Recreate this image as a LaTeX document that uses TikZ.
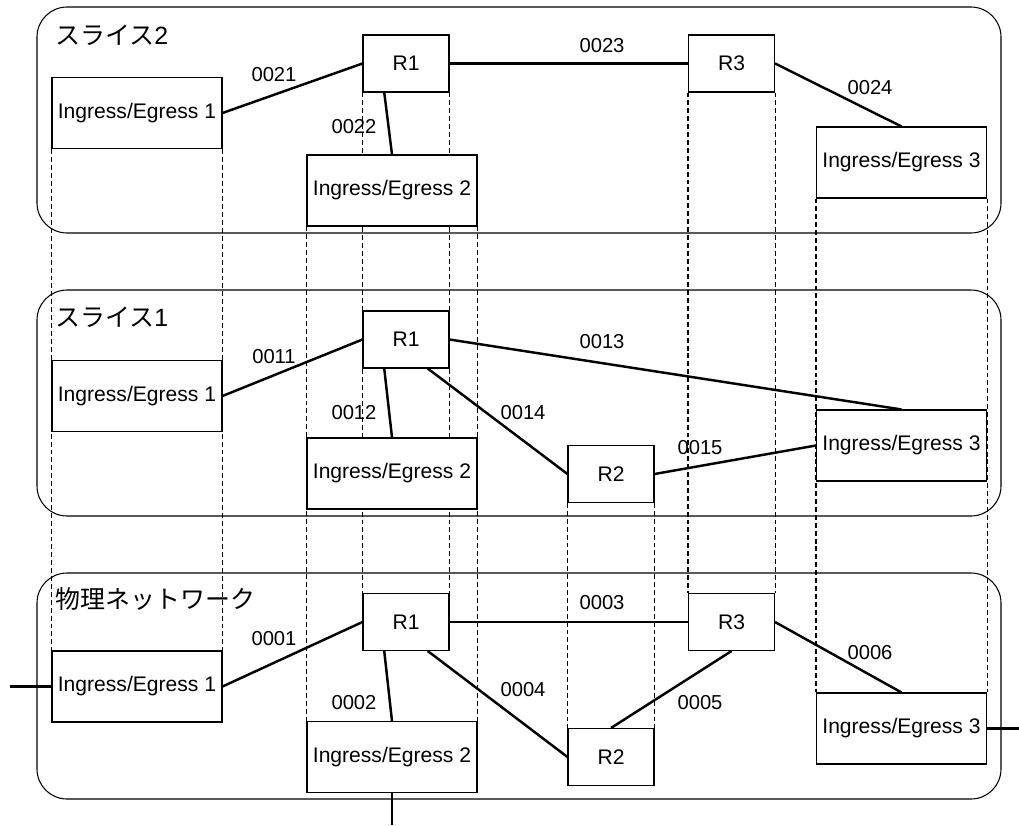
\documentclass[tikz,border=0pt]{standalone}
\usepackage{fontspec}
\setmainfont{Liberation Sans}
\newfontfamily\jpfont{Noto Sans CJK JP}
\usetikzlibrary{calc,backgrounds}

\begin{document}
\begin{tikzpicture}[x=0.2mm,y=-0.2mm,
  panel/.style={draw,line width=0.6pt,rounded corners=6mm},
  iebox/.style={draw,fill=white,line width=0.6pt,minimum width=34mm,minimum height=14.2mm,inner sep=0pt,font=\fontsize{12}{14}\selectfont},
  rbox/.style={draw,fill=white,line width=0.6pt,minimum width=17.2mm,minimum height=11.4mm,inner sep=0pt,font=\fontsize{12}{14}\selectfont},
  link/.style={line width=1.4pt},
  guide/.style={line width=0.6pt,dash pattern=on 2.8pt off 1.7pt},
  lbl/.style={inner sep=0pt,font=\fontsize{11.5}{14}\selectfont},
  ttl/.style={anchor=west,inner sep=0pt,font=\fontsize{14.2}{17}\selectfont}]
\useasboundingbox (0,0) rectangle (1019,825);
% slice 2
\node[iebox] (s2ie1) at (137,113) {Ingress/Egress 1}; \node[rbox] (s2r1) at (406,63.5) {R1};
\node[iebox] (s2ie2) at (392,190.5) {Ingress/Egress 2}; \node[rbox] (s2r3) at (731.5,63.5) {R3};
\node[iebox] (s2ie3) at (901.5,162.5) {Ingress/Egress 3};
% slice 1
\node[iebox] (s1ie1) at (137,396) {Ingress/Egress 1}; \node[rbox] (s1r1) at (406,339.5) {R1};
\node[iebox] (s1ie2) at (392,473.5) {Ingress/Egress 2}; \node[rbox] (s1r2) at (611,474) {R2};
\node[iebox] (s1ie3) at (901.5,445.5) {Ingress/Egress 3};
% physical network
\node[iebox] (pie1) at (137,686.5) {Ingress/Egress 1}; \node[rbox] (pr1) at (406,622) {R1};
\node[iebox] (pie2) at (392,757) {Ingress/Egress 2}; \node[rbox] (pr2) at (611,757) {R2};
\node[rbox] (pr3) at (731.5,622) {R3}; \node[iebox] (pie3) at (901.5,728.5) {Ingress/Egress 3};
\coordinate (extL) at (10,686.5); \coordinate (extB) at (392,825); \coordinate (extR) at (1019,728.5);

\begin{pgfonlayer}{background}
\draw[panel] (37,7) rectangle (1001,233); \draw[panel] (37,290) rectangle (1001,516); \draw[panel] (37,573) rectangle (1001,799);
\foreach \a/\b in {s2ie1/pie1,s2ie2/pie2,s2r1/pr1,s2r3/pr3,s2ie3/pie3,s1r2/pr2}
  \draw[guide] (\a.south west) -- (\b.north west) (\a.south east) -- (\b.north east);
\draw[link] (s2ie1.east) -- (s2r1.west); \draw[link] ($(s2r1.south)!.5!(s2r1.south west)$) -- (s2ie2.north);
\draw[link] (s2r1.east) -- (s2r3.west); \draw[link] (s2r3.east) -- (s2ie3.north);
\draw[link] (s1ie1.east) -- (s1r1.west); \draw[link] ($(s1r1.south)!.5!(s1r1.south west)$) -- (s1ie2.north);
\draw[link] (s1r1.east) -- (s1ie3.north); \draw[link] ($(s1r1.south)!.5!(s1r1.south east)$) -- (s1r2.west);
\draw[link] (s1r2.east) -- (s1ie3.west);
\draw[link] (pie1.east) -- (pr1.west); \draw[link] ($(pr1.south)!.5!(pr1.south west)$) -- (pie2.north);
\draw[link] (pr1.east) -- (pr3.west); \draw[link] ($(pr1.south)!.5!(pr1.south east)$) -- (pr2.west);
\draw[link] (pr3.south) -- (pr2.north); \draw[link] (pr3.east) -- (pie3.north);
\draw[link] (extL) -- (pie1.west); \draw[link] (pie2.south) -- (extB); \draw[link] (pie3.east) -- (extR);
\end{pgfonlayer}

\node[ttl] (t2) at (55,35) {{\jpfont スライス}2};
\node[ttl] (t1) at (55,317) {{\jpfont スライス}1};
\node[ttl] (t0) at (55,599) {\jpfont 物理ネットワーク};
\node[lbl] (l0021) at (274,75) {0021}; \node[lbl] (l0022) at (354,127) {0022};
\node[lbl] (l0023) at (602,46) {0023}; \node[lbl] (l0024) at (870,88) {0024};
\node[lbl] (l0011) at (274,357) {0011}; \node[lbl] (l0012) at (354,413) {0012};
\node[lbl] (l0013) at (602,342) {0013}; \node[lbl] (l0014) at (523,413) {0014};
\node[lbl] (l0015) at (700,448) {0015};
\node[lbl] (l0001) at (274,639) {0001}; \node[lbl] (l0002) at (354,703) {0002};
\node[lbl] (l0003) at (602,603) {0003}; \node[lbl] (l0004) at (523,690) {0004};
\node[lbl] (l0005) at (700,703) {0005}; \node[lbl] (l0006) at (870,653) {0006};
\end{tikzpicture}
\end{document}
